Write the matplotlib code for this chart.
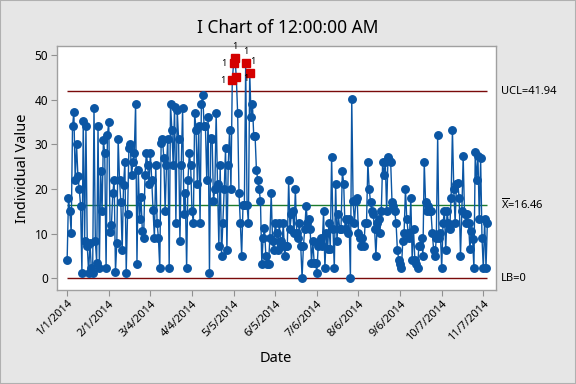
import numpy as np
import pandas as pd
import matplotlib
matplotlib.use("Agg")
import matplotlib.pyplot as plt

plt.rcParams['font.family'] = ['Noto Sans', 'DejaVu Sans']
plt.rcParams['mathtext.fontset'] = 'custom'
plt.rcParams['mathtext.rm'] = 'Noto Sans'

# ---- data ----
start_date = "2014-01-01"
values_jan_mar = [
    4.2, 18, 15, 10.2, 34, 37.2, 22, 30, 23, 20,
    16.3, 1.3, 35.2, 8.3, 34, 7.2, 1.3, 8, 2.2, 1.3,
    38.2, 8.3, 3.5, 34, 2.4, 24, 15, 31, 28, 2.2,
    32, 35, 10.4, 12, 19, 22, 1.4, 8, 31.2, 22,
    17, 6.3, 21, 26, 1.3, 14.3, 29.2, 30, 23.2, 26,
    28, 39.1, 3.3, 24.2, 13.2, 18.3, 10.6, 9.1, 23.2, 28,
    25.3, 21.2, 28, 22, 15.2, 9, 25.3, 12.4, 9, 2.2,
]
values_mar_may = [
    30.2, 31.2, 27, 15, 25.3, 31.2, 2.2, 39, 33.3, 25.3,
    38.4, 12.4, 37.6, 31.2, 8.3, 25.3, 38.2, 14.3, 19.1, 2.2,
    22, 28, 25.3, 15, 12.4, 37, 33.3, 21.2, 34, 12.4,
    39.1, 41.1, 34, 34, 22, 36.1, 1.3, 31.4, 31.2, 17.3,
    20, 37, 21.2, 7.2, 25.3, 5.1, 12.4, 20, 29.2, 6.3,
    25.3, 33.3, 20, 44.3, 48.2, 49.3, 45, 37, 19.1, 12.4,
    5.1, 16.5, 16.5, 48.2, 16.5, 12.4, 46, 36.1, 39.1, 31.8,
    31.8, 24.2, 22,
]
values_may_aug = [
    20, 17.3, 3.1, 9.1, 11.3, 5.1, 3.1, 3.1, 9.1, 19.1,
    8.3, 6.3, 12.4, 10.2, 6.3, 12.4, 8.3, 7.2, 12.4, 5.1,
    7.2, 7.2, 22.1, 11.1, 14.3, 15, 10.2, 20, 10.2, 9.1,
    12.4, 7.2, 0.1, 7.2, 11.1, 16.3, 12.4, 13.2, 11.1, 3.5,
    8.3, 3.5, 3.5, 1.3, 7.2, 8.3, 9.1, 7.2, 15, 2.2,
    10.2, 6.5, 12.4, 6.5, 27.2, 11.1, 2.2, 21.2, 8.3, 14.3,
    11.1, 11.1, 24, 21.2, 11.1, 13.2, 10.2, 13.2, 0, 40.2,
    17.3, 12.4,
]
values_aug_oct = [
    17.3, 18, 10.2, 9.1, 7.2, 9.1, 7.2, 12.4, 12.4, 26,
    20, 17, 15, 14.3, 11.1, 5.1, 12.4, 13.2, 10.2, 15,
    26, 23.2, 26, 15, 27.2, 26.6, 26, 17, 16.3, 15,
    12.4, 6.3, 4.2, 3.1, 2.2, 8.3, 10.2, 20, 13.2, 10.2,
    9.1, 18, 4.2, 11.1, 4.2, 3.1, 2.2, 7.2, 7.2, 9.1,
    5.1, 26, 17, 15, 16.1, 15, 15, 10.2, 6.3, 5.1,
    9.1, 32, 9.1, 10.2, 2.2, 12.4, 15, 6.3, 15, 12.4,
    11.1,
]
values_oct_nov = [
    18, 33.2, 20, 12.4, 21.2, 21.3, 18, 5, 15, 27.3,
    14.3, 12.4, 14.3, 12.4, 6.5, 10.6, 8.8, 2.2, 28.2, 22,
    27.3, 13.2, 26.9, 9.1, 2.2, 13.2, 2.2, 12.4,
]
ucl = 41.94
center = 16.46
lb = 0.0
tick_step = 31
yticks = [0, 10, 20, 30, 40, 50]

values = np.array(values_jan_mar + values_mar_may + values_may_aug
                  + values_aug_oct + values_oct_nov, dtype=float)
n = len(values)
dates = pd.date_range(start_date, periods=n, freq="D")
x = np.arange(n)

# ---- style ----
blue = '#0B56A4'
red_pt = '#D40000'
lim_col = '#7A0A0A'
cl_col = '#1E7B2E'
bg = '#E6E6E6'

fig = plt.figure(figsize=(5.76, 3.84), dpi=100, facecolor=bg)
ax = fig.add_axes([0.0984, 0.245, 0.7626, 0.635])
ax.set_facecolor('white')

ax.hlines([ucl, lb], x[0], x[-1], colors=lim_col, lw=1.0, zorder=2)
ax.hlines(center, x[0], x[-1], colors=cl_col, lw=1.0, zorder=2)

ax.plot(x, values, '-', color=blue, lw=1.0, marker='o', ms=5.4,
        mec=blue, mfc=blue, zorder=3)

out = values > ucl
ax.plot(x[out], values[out], 's', color=red_pt, ms=6.2, mec=red_pt, zorder=4)
# label placements for the test-1 flags (offsets in points), avoid stacking
label_offsets = [(-5, 0), (-5, 0), (0, 5), (5, -1), (0, 5), (2, 5)]
for (xi, yi), off in zip(zip(x[out], values[out]), label_offsets):
    ha = 'right' if off[0] < 0 else ('left' if off[0] > 2 else 'center')
    va = 'bottom' if off[1] > 0 else 'center'
    ax.annotate('1', (xi, yi), xytext=off, textcoords='offset points',
                ha=ha, va=va, fontsize=6.5, color='black', zorder=5)

ax.set_xlim(-7.8, 319.4)
ax.set_ylim(-2.6, 52.0)
ax.set_yticks(yticks)
ticks = x[::tick_step]
ax.set_xticks(ticks)
ax.set_xticklabels([f"{d.month}/{d.day}/{d.year}" for d in dates[::tick_step]],
                   rotation=45, ha='right', rotation_mode='anchor', fontsize=8)
ax.tick_params(axis='y', labelsize=8.5)
ax.tick_params(direction='out', length=4, color='#909090', width=0.8, pad=2)
for s in ax.spines.values():
    s.set_color('#A0A0A0')
    s.set_linewidth(1.0)

ax.set_xlabel('Date', fontsize=10.5, labelpad=6)
ax.set_ylabel('Individual Value', fontsize=10.5, labelpad=3)
fig.text(0.5, 1 - 27.6 / 384, 'I Chart of 12:00:00 AM', ha='center', va='center',
         fontsize=12.5)

trans = ax.get_yaxis_transform()
ax.text(1.012, ucl, f'UCL={ucl:.2f}', transform=trans, va='center', ha='left',
        fontsize=8, clip_on=False)
ax.text(1.012, center, r'$\overline{\mathrm{X}}$' + f'={center:.2f}', transform=trans,
        va='center', ha='left', fontsize=8, clip_on=False)
ax.text(1.012, lb, 'LB=0', transform=trans, va='center', ha='left',
        fontsize=8, clip_on=False)

fig.patches.append(plt.Rectangle((0, 0), 1, 1, transform=fig.transFigure,
                                 fill=False, ec='#B0B0B0', lw=1.5))
fig.savefig('out.png', dpi=100, facecolor=bg)
